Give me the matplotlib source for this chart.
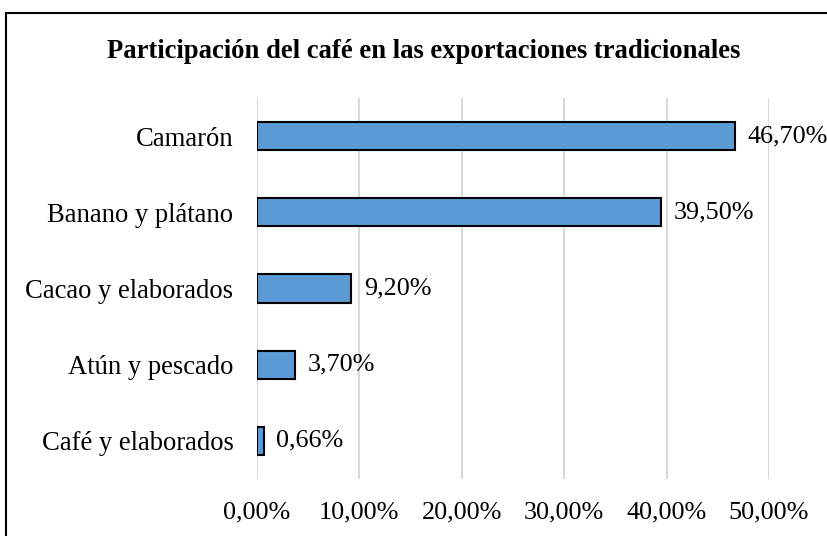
import matplotlib
matplotlib.use("Agg")
import matplotlib.pyplot as plt
from matplotlib.patches import Rectangle

categories = ["Café y elaborados", "Atún y pescado", "Cacao y elaborados",
              "Banano y plátano", "Camarón"]
values = [0.0066, 0.037, 0.092, 0.395, 0.467]
value_labels = ["0,66%", "3,70%", "9,20%", "39,50%", "46,70%"]
xticks = [0.0, 0.1, 0.2, 0.3, 0.4, 0.5]
xtick_labels = ["0,00%", "10,00%", "20,00%", "30,00%", "40,00%", "50,00%"]
title = "Participación del café en las exportaciones tradicionales"

plt.rcParams['font.family'] = ['Liberation Serif', 'DejaVu Serif']

W, H = 827, 536
fig = plt.figure(figsize=(W / 100, H / 100), dpi=100)
ax = fig.add_axes([257 / W, 1 - 479 / H, (769 - 257) / W, (479 - 98) / H])

y = list(range(len(categories)))
ax.barh(y, values, height=0.37, color="#5B9BD5", edgecolor="black",
        linewidth=1.5, zorder=3)
for yi, v, lab in zip(y, values, value_labels):
    ax.annotate(lab, (v, yi), xytext=(9, 0), textcoords="offset points",
                va="center", ha="left", fontsize=18.8, color="#000000",
                annotation_clip=False)

ax.set_xlim(0, 0.5)
ax.set_ylim(-0.5, len(categories) - 0.5)
ax.set_xticks(xticks)
ax.set_xticklabels(xtick_labels, fontsize=18.8)
ax.set_yticks(y)
ax.set_yticklabels(categories, fontsize=19.2)
ax.tick_params(axis="both", length=0)
ax.tick_params(axis="y", pad=17)
ax.tick_params(axis="x", pad=16)
ax.grid(axis="x", color="#D9D9D9", linewidth=1.5, zorder=0)
for s in ax.spines.values():
    s.set_visible(False)

fig.text(423.5 / W, 1 - 52 / H, title, ha="center", va="center",
         fontsize=19.2, fontweight="bold")

fig.patches.append(Rectangle((6 / W, -0.1), 1.2, 1 - 13 / H + 0.1,
                             transform=fig.transFigure, fill=False,
                             edgecolor="black", linewidth=1.5))

fig.savefig("out.png", dpi=100)
